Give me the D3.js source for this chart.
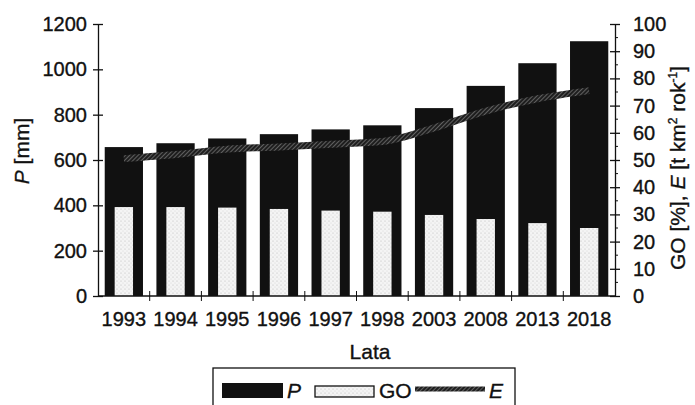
<!DOCTYPE html>
<html>
<head>
<meta charset="utf-8">
<script src="https://cdn.jsdelivr.net/npm/d3@7"></script>
<style>
  body { margin: 0; background: #fff; }
  text { font-family: "Liberation Sans", Arial, sans-serif; fill: #111; stroke: #111; stroke-width: 0.35px; }
</style>
</head>
<body>
<svg id="wykres"></svg>
<script>
// dane
var lata = ['1993', '1994', '1995', '1996', '1997', '1998', '2003', '2008', '2013', '2018'];
var opadP = [657, 674, 695, 714, 735, 753, 829, 927, 1027, 1124];
var wskaznikGO = [32.7, 32.7, 32.5, 32.0, 31.4, 31.0, 29.8, 28.3, 26.8, 25.0];
var erozjaE = [50.5, 52.0, 54.0, 54.8, 55.8, 56.8, 61.8, 68.0, 72.5, 75.5];
var tickiLewe = [0, 200, 400, 600, 800, 1000, 1200];
var tickiPrawe = [0, 10, 20, 30, 40, 50, 60, 70, 80, 90, 100];

var szerokosc = 695, wysokosc = 405;
var rozmiar = '20px';
var rozmiarTytul = '21px';
var svg = d3.select('#wykres').attr('width', szerokosc).attr('height', wysokosc);

// wzory wypełnienia
var defs = svg.append('defs');
var kropki = defs.append('pattern').attr('id', 'kropki')
    .attr('width', 4).attr('height', 4).attr('patternUnits', 'userSpaceOnUse');
kropki.append('rect').attr('width', 4).attr('height', 4).attr('fill', '#f4f4f4');
kropki.append('circle').attr('cx', 1).attr('cy', 1).attr('r', 0.6).attr('fill', '#bbb');
kropki.append('circle').attr('cx', 3).attr('cy', 3).attr('r', 0.5).attr('fill', '#d0d0d0');

var kreski = defs.append('pattern').attr('id', 'kreski')
    .attr('width', 3).attr('height', 3).attr('patternUnits', 'userSpaceOnUse')
    .attr('patternTransform', 'rotate(45)');
kreski.append('rect').attr('width', 3).attr('height', 3).attr('fill', '#1e1e1e');
kreski.append('rect').attr('width', 1).attr('height', 3).attr('fill', '#606060');

// marginesy
var lewo = 98, prawo = 615, gora = 24, dol = 296;

var x = d3.scaleBand().domain(lata).range([lewo, prawo])
    .paddingInner(0.26).paddingOuter(0.13);
var yP = d3.scaleLinear().domain([0, 1200]).range([dol, gora]);
var yPr = d3.scaleLinear().domain([0, 100]).range([dol, gora]);
var krok = x.step();

// słupki P
svg.append('g').selectAll('rect').data(lata).enter().append('rect')
    .attr('x', d => x(d))
    .attr('y', (d, i) => yP(opadP[i]))
    .attr('width', x.bandwidth())
    .attr('height', (d, i) => dol - yP(opadP[i]))
    .attr('fill', '#111');

// słupki GO
var szerGO = x.bandwidth() * 0.48;
svg.append('g').selectAll('rect').data(lata).enter().append('rect')
    .attr('x', d => x(d) + (x.bandwidth() - szerGO) / 2)
    .attr('y', (d, i) => yPr(wskaznikGO[i]))
    .attr('width', szerGO)
    .attr('height', (d, i) => dol - yPr(wskaznikGO[i]))
    .attr('fill', 'url(#kropki)');

// linia E
var linia = d3.line()
    .x((d, i) => x(lata[i]) + x.bandwidth() / 2)
    .y(d => yPr(d))
    .curve(d3.curveMonotoneX);
svg.append('path').datum(erozjaE)
    .attr('d', linia)
    .attr('fill', 'none')
    .attr('stroke', 'url(#kreski)')
    .attr('stroke-width', 7);

// oś lewa
var osL = svg.append('g').attr('transform', 'translate(' + lewo + ',0)')
    .call(d3.axisLeft(yP).tickValues(tickiLewe).tickFormat(d3.format('d'))
        .tickSize(5).tickPadding(6).tickSizeOuter(0));
osL.selectAll('.tick line').attr('x1', 5);
osL.selectAll('text').style('font-size', rozmiar);

// oś prawa
var osP = svg.append('g').attr('transform', 'translate(' + prawo + ',0)')
    .call(d3.axisRight(yPr).tickValues(tickiPrawe).tickSize(5).tickPadding(13).tickSizeOuter(0));
osP.selectAll('.tick line').attr('x1', -5);
osP.selectAll('text').style('font-size', rozmiar);
osP.selectAll('.minor').data(d3.range(5, 100, 10)).enter().append('line')
    .attr('x1', 0).attr('x2', 3)
    .attr('y1', d => yPr(d)).attr('y2', d => yPr(d))
    .attr('stroke', '#111');

// oś dolna
var osX = svg.append('g').attr('transform', 'translate(0,' + dol + ')')
    .call(d3.axisBottom(x).tickSize(0).tickPadding(16).tickSizeOuter(0));
osX.select('.domain').attr('d', 'M' + lewo + ',0H' + prawo);
osX.selectAll('text').style('font-size', rozmiar);
osX.selectAll('.granica').data(d3.range(1, lata.length)).enter().append('line')
    .attr('x1', d => lewo + d * krok).attr('x2', d => lewo + d * krok)
    .attr('y1', -5).attr('y2', 5)
    .attr('stroke', '#111');

svg.selectAll('.domain, .tick line').attr('stroke', '#111').attr('stroke-width', 1.3);

// tytuły osi
var tytulL = svg.append('text')
    .attr('transform', 'translate(29,151) rotate(-90)')
    .style('text-anchor', 'middle').style('font-size', rozmiarTytul);
tytulL.append('tspan').style('font-style', 'italic').text('P');
tytulL.append('tspan').text(' [mm]');

var tytulP = svg.append('text')
    .attr('transform', 'translate(685,168) rotate(-90)')
    .style('text-anchor', 'middle').style('font-size', rozmiarTytul);
tytulP.append('tspan').text('GO [%], ');
tytulP.append('tspan').style('font-style', 'italic').text('E');
tytulP.append('tspan').text(' [t km');
tytulP.append('tspan').attr('dy', -8).style('font-size', '12px').text('2');
tytulP.append('tspan').attr('dy', 8).text(' rok');
tytulP.append('tspan').attr('dy', -8).style('font-size', '12px').text('-1');
tytulP.append('tspan').attr('dy', 8).text(']');

svg.append('text').attr('x', 370).attr('y', 359)
    .style('text-anchor', 'middle').style('font-size', rozmiarTytul).text('Lata');

// legenda
var leg = svg.append('g');
leg.append('rect').attr('x', 213).attr('y', 368).attr('width', 302).attr('height', 50)
    .attr('fill', '#fff').attr('stroke', '#111').attr('stroke-width', 1.3);
leg.append('rect').attr('x', 222).attr('y', 383).attr('width', 61).attr('height', 15).attr('fill', '#111');
leg.append('text').attr('x', 287).attr('y', 398).style('font-size', rozmiarTytul)
    .style('font-style', 'italic').text('P');
leg.append('rect').attr('x', 315).attr('y', 386).attr('width', 59).attr('height', 11)
    .attr('fill', 'url(#kropki)').attr('stroke', '#111').attr('stroke-width', 1.3);
leg.append('text').attr('x', 379).attr('y', 398).style('font-size', rozmiarTytul).text('GO');
leg.append('rect').attr('x', 415).attr('y', 386.5).attr('width', 70).attr('height', 5).attr('fill', 'url(#kreski)');
leg.append('text').attr('x', 489).attr('y', 398).style('font-size', rozmiarTytul)
    .style('font-style', 'italic').text('E');
</script>
</body>
</html>
